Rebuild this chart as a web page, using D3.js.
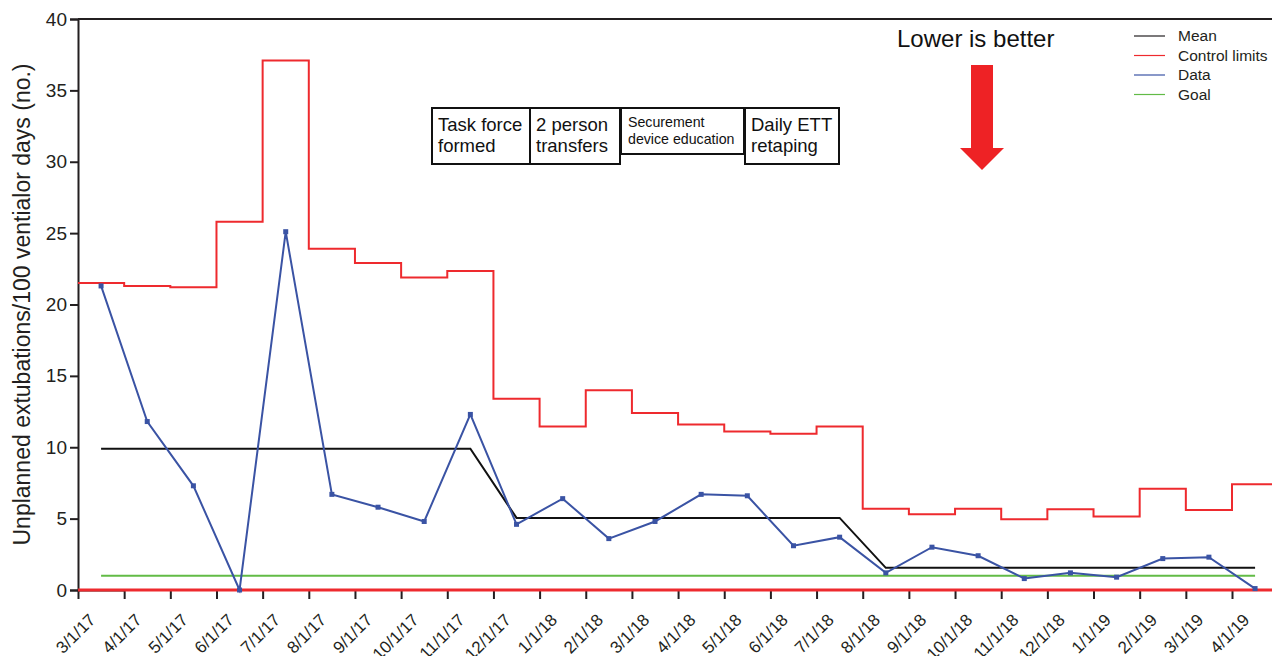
<!DOCTYPE html>
<html>
<head>
<meta charset="utf-8">
<script src="https://cdn.jsdelivr.net/npm/d3@7"></script>
<style>
  body { margin: 0; background: #fff; }
  svg { display: block; font-family: "Liberation Sans", Arial, sans-serif; }
</style>
</head>
<body>
<div id="chart"></div>
<script>
// monthly values
const months = ["3/1/17", "4/1/17", "5/1/17", "6/1/17", "7/1/17", "8/1/17", "9/1/17", "10/1/17",
  "11/1/17", "12/1/17", "1/1/18", "2/1/18", "3/1/18", "4/1/18", "5/1/18", "6/1/18", "7/1/18",
  "8/1/18", "9/1/18", "10/1/18", "11/1/18", "12/1/18", "1/1/19", "2/1/19", "3/1/19", "4/1/19"]
const rate = [21.3, 11.8, 7.3, 0, 25.1, 6.7, 5.8, 4.8, 12.3, 4.6, 6.4, 3.6, 4.8, 6.7, 6.6, 3.1,
  3.7, 1.2, 3.0, 2.4, 0.8, 1.2, 0.9, 2.2, 2.3, 0.1]
const ucl = [21.5, 21.3, 21.2, 25.8, 37.1, 23.9, 22.9, 21.9, 22.35, 13.4, 11.45, 14.0, 12.4, 11.6,
  11.1, 10.95, 11.45, 5.7, 5.3, 5.7, 4.95, 5.65, 5.15, 7.1, 5.6, 7.4]
const mean = [9.9, 9.9, 9.9, 9.9, 9.9, 9.9, 9.9, 9.9, 9.9, 5.05, 5.05, 5.05, 5.05, 5.05, 5.05,
  5.05, 5.05, 1.55, 1.55, 1.55, 1.55, 1.55, 1.55, 1.55, 1.55, 1.55]
const lcl = 0
const goal = 1
const yTicks = [0, 5, 10, 15, 20, 25, 30, 35, 40]

const interventions = [
  { lines: ["Task force", "formed"], x: 432, w: 98, h: 56, size: 18.5 },
  { lines: ["2 person", "transfers"], x: 530, w: 90, h: 56, size: 18.5 },
  { lines: ["Securement", "device education"], x: 621, w: 123, h: 46, size: 14.2 },
  { lines: ["Daily ETT", "retaping"], x: 745, w: 94, h: 56, size: 18.5 }
]
const legendItems = [
  { label: "Mean", color: "#231f20" },
  { label: "Control limits", color: "#ee2a2e" },
  { label: "Data", color: "#3a53a4" },
  { label: "Goal", color: "#62bb46" }
]

const width = 1272
const height = 656
const margin = { top: 19, left: 78, bottom: 66 }
const monthW = 46.16

const svg = d3.select("#chart").append("svg")
  .attr("width", width)
  .attr("height", height)

const x = d3.scaleLinear()
  .domain([0, 1])
  .range([margin.left, margin.left + monthW])
const y = d3.scaleLinear()
  .domain([0, 40])
  .range([height - margin.bottom, margin.top])

const mid = i => x(i + 0.5)
const xEnd = x.invert(width + 4)

// top frame
svg.append("line")
  .attr("x1", margin.left).attr("x2", width)
  .attr("y1", y(40)).attr("y2", y(40))
  .attr("stroke", "#231f20").attr("stroke-width", 2)

// y axis
const yAxis = svg.append("g")
  .attr("transform", `translate(${margin.left},0)`)
  .call(d3.axisLeft(y).tickValues(yTicks).tickSize(8).tickPadding(3))
yAxis.select(".domain").attr("stroke", "#231f20").attr("stroke-width", 2)
yAxis.selectAll(".tick line").attr("stroke", "#231f20").attr("stroke-width", 2)
yAxis.selectAll(".tick text")
  .attr("font-size", 19).attr("fill", "#231f20")
  .attr("font-family", "Liberation Sans, Arial, sans-serif")

// x axis
const xAxis = svg.append("g")
  .attr("transform", `translate(0,${y(0)})`)
  .call(d3.axisBottom(x)
    .tickValues(d3.range(months.length))
    .tickFormat(i => months[i])
    .tickSize(9)
    .tickSizeOuter(0))
xAxis.select(".domain").attr("stroke", "#231f20").attr("stroke-width", 2)
xAxis.selectAll(".tick line").attr("stroke", "#231f20").attr("stroke-width", 2)
xAxis.selectAll(".tick text")
  .attr("font-size", 17).attr("fill", "#231f20")
  .attr("font-family", "Liberation Sans, Arial, sans-serif")
  .attr("text-anchor", "end")
  .attr("x", 0).attr("y", 0).attr("dy", 0)
  .attr("transform", "translate(18,31) rotate(-45)")

// axis title
svg.append("text")
  .attr("transform", `translate(30,${(y(0) + y(40)) / 2}) rotate(-90)`)
  .attr("text-anchor", "middle")
  .attr("font-size", 23)
  .attr("fill", "#231f20")
  .text("Unplanned extubations/100 ventialor days (no.)")

// upper control limit (steps at month boundaries)
const uclPts = ucl.map((v, i) => [i, v]).concat([[xEnd, ucl[ucl.length - 1]]])
svg.append("path")
  .datum(uclPts)
  .attr("fill", "none")
  .attr("stroke", "#ee2a2e")
  .attr("stroke-width", 2)
  .attr("d", d3.line().x(d => x(d[0])).y(d => y(d[1])).curve(d3.curveStepAfter))

// goal
svg.append("line")
  .attr("x1", mid(0)).attr("x2", mid(months.length - 1))
  .attr("y1", y(goal)).attr("y2", y(goal))
  .attr("stroke", "#62bb46").attr("stroke-width", 2)

// mean
svg.append("path")
  .datum(mean)
  .attr("fill", "none")
  .attr("stroke", "#111")
  .attr("stroke-width", 2)
  .attr("d", d3.line().x((d, i) => mid(i)).y(d => y(d)))

// lower control limit
svg.append("line")
  .attr("x1", margin.left).attr("x2", width)
  .attr("y1", y(lcl)).attr("y2", y(lcl))
  .attr("stroke", "#ee2a2e").attr("stroke-width", 3)

// data
svg.append("path")
  .datum(rate)
  .attr("fill", "none")
  .attr("stroke", "#3a53a4")
  .attr("stroke-width", 2)
  .attr("d", d3.line().x((d, i) => mid(i)).y(d => y(d)))

svg.append("g")
  .selectAll("rect")
  .data(rate)
  .join("rect")
  .attr("x", (d, i) => mid(i) - 2.5)
  .attr("y", d => y(d) - 2.5)
  .attr("width", 5)
  .attr("height", 5)
  .attr("fill", "#3a53a4")

// intervention boxes
const box = svg.append("g")
  .selectAll("g")
  .data(interventions)
  .join("g")
  .attr("transform", d => `translate(${d.x},108)`)
box.append("rect")
  .attr("width", d => d.w)
  .attr("height", d => d.h)
  .attr("fill", "#fff")
  .attr("stroke", "#111")
  .attr("stroke-width", 2)
box.each(function (d) {
  const t = d3.select(this).append("text")
    .attr("font-size", d.size)
    .attr("fill", "#111")
  d.lines.forEach((line, k) => {
    t.append("tspan")
      .attr("x", d.size > 15 ? 6 : 7)
      .attr("y", d.size > 15 ? 23 + k * 21 : 19 + k * 17)
      .text(line)
  })
})

// "lower is better" note
svg.append("text")
  .attr("x", 897).attr("y", 47)
  .attr("font-size", 24)
  .attr("fill", "#111")
  .text("Lower is better")
svg.append("path")
  .attr("d", "M971,65 L993,65 L993,148 L1004,148 L982,170 L960,148 L971,148 Z")
  .attr("fill", "#ee2225")

// legend
const legend = svg.append("g")
  .selectAll("g")
  .data(legendItems)
  .join("g")
  .attr("transform", (d, i) => `translate(1134,${36 + i * 19.5})`)
legend.append("line")
  .attr("x1", 0).attr("x2", 31)
  .attr("stroke", d => d.color)
  .attr("stroke-width", 1.2)
legend.append("text")
  .attr("x", 44)
  .attr("dy", "0.35em")
  .attr("font-size", 15.5)
  .attr("fill", "#231f20")
  .text(d => d.label)
</script>
</body>
</html>
